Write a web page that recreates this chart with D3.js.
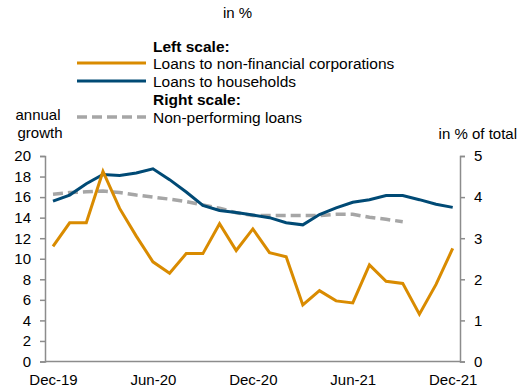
<!DOCTYPE html>
<html><head><meta charset="utf-8">
<script src="https://cdn.jsdelivr.net/npm/d3@7"></script>
<style>body{margin:0;background:#fff}svg{display:block;font-family:"Liberation Sans",Arial,sans-serif}</style>
</head><body><svg id="c" width="519" height="388"></svg>
<script>
const months = ["Dec-19","Jan-20","Feb-20","Mar-20","Apr-20","May-20","Jun-20","Jul-20","Aug-20","Sep-20","Oct-20","Nov-20","Dec-20","Jan-21","Feb-21","Mar-21","Apr-21","May-21","Jun-21","Jul-21","Aug-21","Sep-21","Oct-21","Nov-21","Dec-21"];
const tickLabels = ["Dec-19","Jun-20","Dec-20","Jun-21","Dec-21"];
const corporations = [11.2,13.5,13.5,18.5,14.9,12.2,9.7,8.6,10.5,10.5,13.4,10.8,12.9,10.6,10.2,5.5,6.9,5.9,5.7,9.4,7.8,7.6,4.6,7.5,11.0];
const households = [15.6,16.2,17.3,18.2,18.1,18.35,18.75,17.7,16.5,15.2,14.7,14.5,14.25,14.0,13.5,13.3,14.3,14.95,15.5,15.75,16.15,16.15,15.75,15.3,15.0];
const npl = [4.07,4.11,4.13,4.15,4.11,4.05,4.0,3.95,3.89,3.81,3.73,3.62,3.55,3.55,3.55,3.55,3.55,3.58,3.58,3.51,3.46,3.40,null,null,null];
const leftTicks = [0,2,4,6,8,10,12,14,16,18,20];
const rightTicks = [0,1,2,3,4,5];

const svg = d3.select("#c");
const x = d3.scalePoint().domain(months).range([53,452.7]);
const yL = d3.scaleLinear().domain([0,20]).range([361.5,156]);
const yR = d3.scaleLinear().domain([0,5]).range([361.5,156]);
const axisCol = "#8c8c8c", fs = "15px", lfs = "15.5px";
const cOrange="#D98B00", cBlue="#004A75", cGrey="#A6A6A6";

// axes
const gl = svg.append("g").attr("transform","translate(45,0)")
  .call(d3.axisLeft(yL).tickValues(leftTicks).tickFormat(d3.format("d")).tickSize(5).tickPadding(9));
const gr = svg.append("g").attr("transform","translate(460,0)")
  .call(d3.axisRight(yR).tickValues(rightTicks).tickFormat(d3.format("d")).tickSize(5).tickPadding(9));
const gb = svg.append("g").attr("transform","translate(0,361.5)")
  .call(d3.axisBottom(x).tickValues(tickLabels).tickSize(0).tickPadding(13));
[gl,gr,gb].forEach(g=>{
  g.selectAll("path").attr("stroke",axisCol).attr("stroke-width",1.5);
  g.selectAll("line").attr("stroke",axisCol).attr("stroke-width",1.5);
  g.selectAll("text").attr("fill","#000").style("font-size",fs).style("font-family","'Liberation Sans',Arial,sans-serif");
});
gb.select("path").attr("d","M45,0H460");

const line = (s)=>d3.line().defined(d=>d!=null).x((d,i)=>x(months[i])).y(d=>s(d));
svg.append("path").datum(npl).attr("fill","none").attr("stroke",cGrey).attr("stroke-width",3.5)
  .attr("stroke-dasharray","10,5").attr("d",line(yR));
svg.append("path").datum(households).attr("fill","none").attr("stroke",cBlue).attr("stroke-width",3).attr("d",line(yL));
svg.append("path").datum(corporations).attr("fill","none").attr("stroke",cOrange).attr("stroke-width",3).attr("d",line(yL));

// texts
const t = (xx,yy,s,anchor="start",w="normal",size=fs)=>svg.append("text").attr("x",xx).attr("y",yy).attr("text-anchor",anchor)
  .style("font-size",size).style("font-weight",w).attr("fill","#000").text(s);
t(237.5,18,"in %","middle");
t(38,120,"annual","middle");
t(40,138,"growth","middle");
t(517,139,"in % of total","end");

// legend
const lx1=77, lx2=146, tx=153;
const rows=[
 {label:"Left scale:",bold:true,y:46},
 {label:"Loans to non-financial corporations",y:63,color:cOrange},
 {label:"Loans to households",y:81,color:cBlue},
 {label:"Right scale:",bold:true,y:99},
 {label:"Non-performing loans",y:117,color:cGrey,dash:true}
];
rows.forEach(r=>{
  if(r.color){
    svg.append("line").attr("x1",lx1).attr("x2",lx2).attr("y1",r.y).attr("y2",r.y)
      .attr("stroke",r.color).attr("stroke-width",r.dash?3.5:3).attr("stroke-dasharray",r.dash?"10,5":null);
  }
  t(tx,r.y+5.5,r.label,"start",r.bold?"bold":"normal",lfs);
});
</script></body></html>
